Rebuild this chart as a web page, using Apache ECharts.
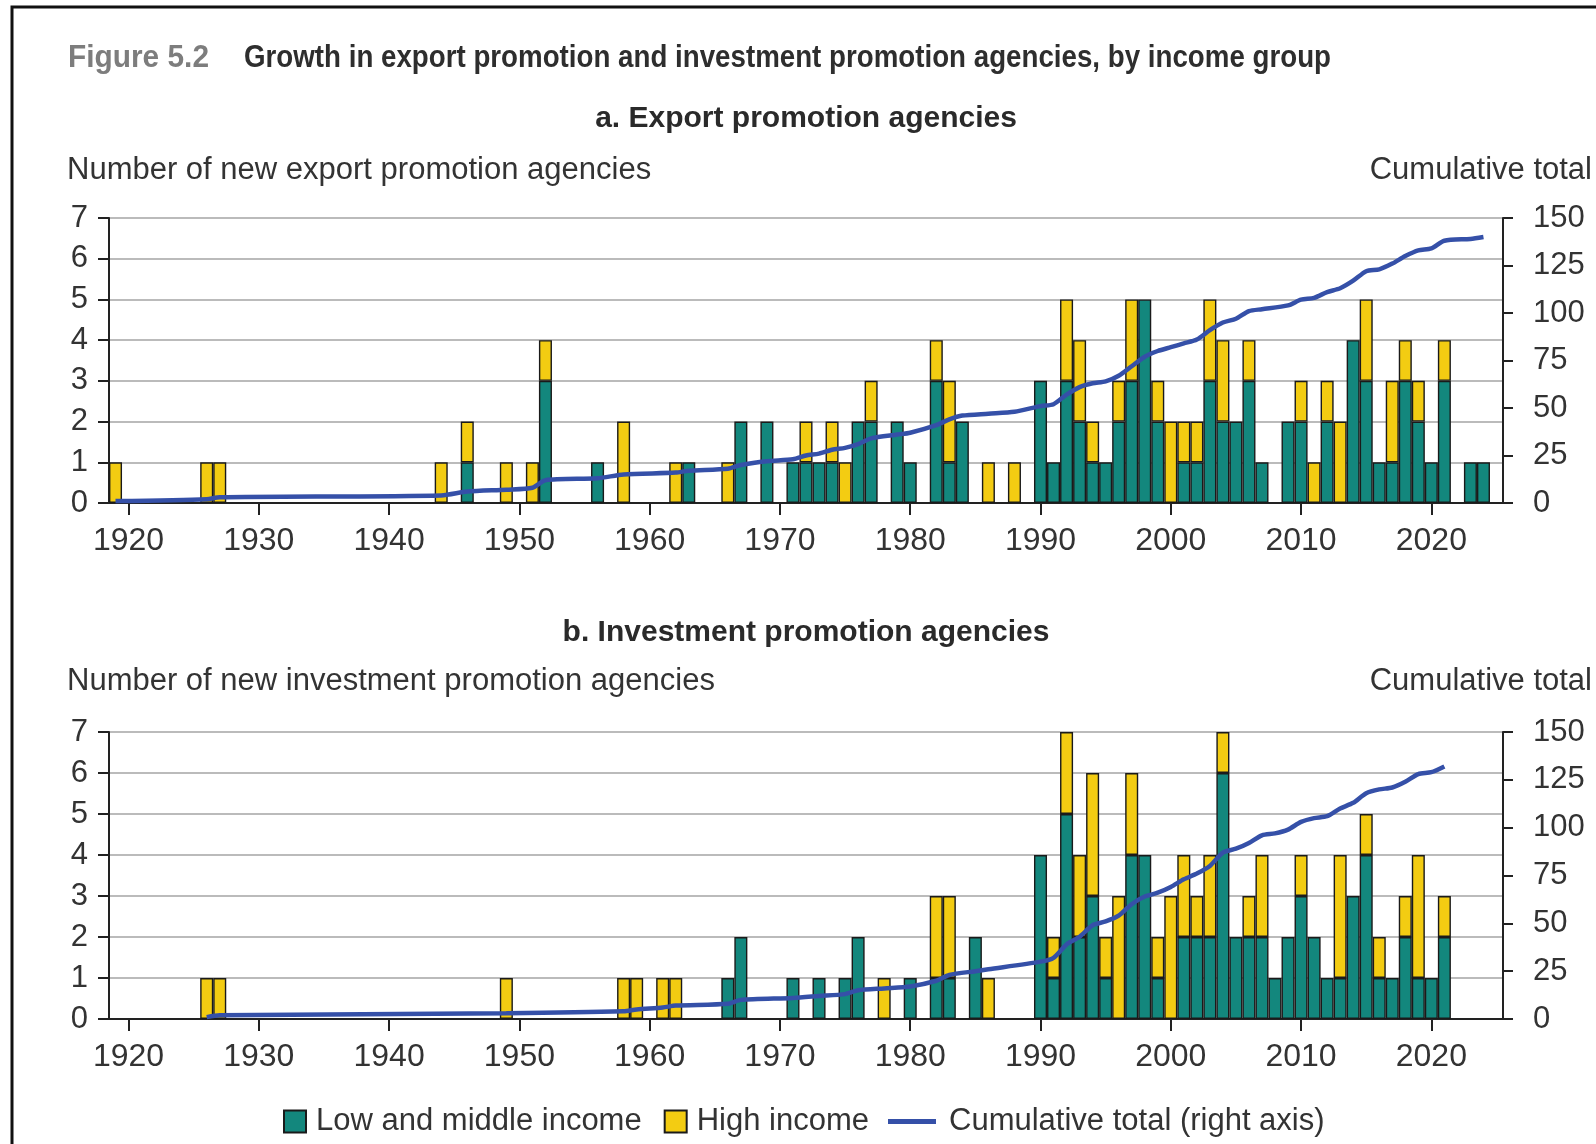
<!DOCTYPE html>
<html>
<head>
<meta charset="utf-8">
<title>Growth in export promotion and investment promotion agencies</title>
<script src="https://cdn.jsdelivr.net/npm/echarts@6/dist/echarts.min.js"></script>
<style>
  html, body { margin: 0; padding: 0; background: #ffffff; }
  #chart { width: 1596px; height: 1144px; }
</style>
</head>
<body>
<div id="chart"></div>
<script>
// ---- Panel a: export promotion agencies (years with at least one new agency) ----
const exportYears = [1919, 1926, 1927, 1944, 1946, 1949, 1951, 1952,
  1956, 1958, 1962, 1963, 1966, 1967, 1969,
  1971, 1972, 1973, 1974, 1975, 1976, 1977, 1979, 1980,
  1982, 1983, 1984, 1986, 1988,
  1990, 1991, 1992, 1993, 1994, 1995, 1996, 1997, 1998, 1999,
  2000, 2001, 2002, 2003, 2004, 2005, 2006, 2007,
  2009, 2010, 2011, 2012, 2013, 2014, 2015, 2016, 2017, 2018, 2019, 2020, 2021,
  2023, 2024];
const exportLowMiddle = [0, 0, 0, 0, 1, 0, 0, 3,
  1, 0, 0, 1, 0, 2, 2,
  1, 1, 1, 1, 0, 2, 2, 2, 1,
  3, 1, 2, 0, 0,
  3, 1, 3, 2, 1, 1, 2, 3, 5, 2,
  0, 1, 1, 3, 2, 2, 3, 1,
  2, 2, 0, 2, 0, 4, 3, 1, 1, 3, 2, 1, 3,
  1, 1];
const exportHigh = [1, 1, 1, 1, 1, 1, 1, 1,
  0, 2, 1, 0, 1, 0, 0,
  0, 1, 0, 1, 1, 0, 1, 0, 0,
  1, 2, 0, 1, 1,
  0, 0, 2, 2, 1, 0, 1, 2, 0, 1,
  2, 1, 1, 2, 2, 0, 1, 0,
  0, 1, 1, 1, 2, 0, 2, 0, 2, 1, 1, 0, 1,
  0, 0];
const exportCumulative = [1, 2, 3, 4, 6, 7, 8, 12,
  13, 15, 16, 17, 18, 20, 22,
  23, 25, 26, 28, 29, 31, 34, 36, 37,
  41, 44, 46, 47, 48,
  51, 52, 57, 61, 63, 64, 67, 72, 77, 80,
  82, 84, 86, 91, 95, 97, 101, 102,
  104, 107, 108, 111, 113, 117, 122, 123, 126, 130, 133, 134, 138,
  139, 140];

// ---- Panel b: investment promotion agencies ----
const investYears = [1926, 1927, 1949, 1958, 1959, 1961, 1962,
  1966, 1967, 1971, 1973, 1975, 1976, 1978, 1980,
  1982, 1983, 1985, 1986,
  1990, 1991, 1992, 1993, 1994, 1995, 1996, 1997, 1998, 1999,
  2000, 2001, 2002, 2003, 2004, 2005, 2006, 2007, 2008, 2009,
  2010, 2011, 2012, 2013, 2014, 2015, 2016, 2017, 2018, 2019,
  2020, 2021];
const investLowMiddle = [0, 0, 0, 0, 0, 0, 0,
  1, 2, 1, 1, 1, 2, 0, 1,
  1, 1, 2, 0,
  4, 1, 5, 2, 3, 1, 0, 4, 4, 1,
  0, 2, 2, 2, 6, 2, 2, 2, 1, 2,
  3, 2, 1, 1, 3, 4, 1, 1, 2, 1,
  1, 2];
const investHigh = [1, 1, 1, 1, 1, 1, 1,
  0, 0, 0, 0, 0, 0, 1, 0,
  2, 2, 0, 1,
  0, 1, 2, 2, 3, 1, 3, 2, 0, 1,
  3, 2, 1, 2, 1, 0, 1, 2, 0, 0,
  1, 0, 0, 3, 0, 1, 1, 0, 1, 3,
  0, 1];
const investCumulative = [1, 2, 3, 4, 5, 6, 7,
  8, 10, 11, 12, 13, 15, 16, 17,
  20, 23, 25, 26,
  30, 32, 39, 43, 49, 51, 54, 60, 64, 66,
  69, 73, 76, 80, 87, 89, 92, 96, 97, 99,
  103, 105, 106, 110, 113, 118, 120, 121, 124, 128,
  129, 132];

// ---- Axes ----
const firstYear = 1919;
const lastYear = 2025;
const yearTicks = [1920, 1930, 1940, 1950, 1960, 1970, 1980, 1990, 2000, 2010, 2020];
const countMax = 7;
const cumulativeMax = 150;
const cumulativeStep = 25;

const TEAL = '#13877d';
const YELLOW = '#f3cc12';
const BLUE = '#3550a8';
const INK = '#333333';
const FONT = '"Liberation Sans", Arial, sans-serif';

// Category axis: one band per calendar year
const categories = [];
for (let y = firstYear; y <= lastYear; y++) categories.push(String(y));

// Spread a sparse (year -> value) list over the year categories; empty years stay null
function spread(years, values) {
  const byYear = new Map(years.map((y, i) => [String(y), values[i]]));
  return categories.map(c => {
    const v = byYear.get(c);
    return v === undefined || v === 0 ? null : v;
  });
}
const isTickYear = (index, value) => yearTicks.indexOf(Number(value)) !== -1;

function xAxisFor(gridIndex) {
  return {
    type: 'category', gridIndex, data: categories, boundaryGap: true,
    axisLine: { show: true, onZero: false, lineStyle: { color: '#222', width: 2 } },
    axisTick: { show: true, interval: isTickYear, alignWithLabel: true, length: 12,
      lineStyle: { color: '#222', width: 2 } },
    axisLabel: { interval: isTickYear, fontSize: 32, color: INK, fontFamily: FONT, margin: 22 },
    splitLine: { show: false }
  };
}
function leftAxisFor(gridIndex) {
  return {
    type: 'value', gridIndex, position: 'left',
    min: 0, max: countMax, interval: 1,
    axisLine: { show: true, lineStyle: { color: '#222', width: 2 } },
    axisTick: { show: true, length: 11, lineStyle: { color: '#222', width: 2 } },
    axisLabel: { fontSize: 31, color: INK, fontFamily: FONT, margin: 21 },
    splitLine: { show: true, lineStyle: { color: '#a4a4a4', width: 1.5 } }
  };
}
function rightAxisFor(gridIndex) {
  return {
    type: 'value', gridIndex, position: 'right',
    min: 0, max: cumulativeMax, interval: cumulativeStep,
    axisLine: { show: true, lineStyle: { color: '#222', width: 2 } },
    axisTick: { show: true, length: 10, lineStyle: { color: '#222', width: 2 } },
    axisLabel: { fontSize: 31, color: INK, fontFamily: FONT, margin: 30 },
    splitLine: { show: false }
  };
}
function barSeries(name, xIdx, yIdx, stack, years, values, color) {
  return {
    name, type: 'bar', xAxisIndex: xIdx, yAxisIndex: yIdx, stack,
    barWidth: '100%', data: spread(years, values),
    itemStyle: { color, borderColor: '#1a1a1a', borderWidth: 1.4 },
    emphasis: { disabled: true }
  };
}
function lineSeries(xIdx, yIdx, years, values) {
  return {
    name: 'Cumulative total (right axis)', type: 'line',
    xAxisIndex: xIdx, yAxisIndex: yIdx, z: 5,
    data: spread(years, values), connectNulls: true,
    showSymbol: false, smooth: 0.25,
    color: BLUE, itemStyle: { color: BLUE },
    lineStyle: { color: BLUE, width: 4.5 }
  };
}
function text(x, y, str, font, fill, align) {
  return { type: 'text', x, y, silent: true,
    style: { text: str, font, fill, align: align || 'left', verticalAlign: 'middle' } };
}
// Condensed heading: a bold face squeezed horizontally to a given line length
const measureCtx = document.createElement('canvas').getContext('2d');
function condensed(x, y, str, font, fill, targetWidth) {
  measureCtx.font = font;
  const w = measureCtx.measureText(str).width || targetWidth;
  const el = text(x, y, str, font, fill);
  el.scaleX = targetWidth / w;
  return el;
}

const chart = echarts.init(document.getElementById('chart'), null, { renderer: 'canvas' });
chart.setOption({
  backgroundColor: '#ffffff',
  animation: false,
  grid: [
    { left: 109, top: 218, width: 1394, height: 285 },
    { left: 109, top: 732, width: 1394, height: 287 }
  ],
  xAxis: [xAxisFor(0), xAxisFor(1)],
  yAxis: [leftAxisFor(0), rightAxisFor(0), leftAxisFor(1), rightAxisFor(1)],
  legend: [
    {
      data: ['Low and middle income', 'High income'],
      left: 283, top: 1106, padding: 0, icon: 'rect',
      itemWidth: 22, itemHeight: 22, itemGap: 22,
      textStyle: { fontSize: 31, color: INK, fontFamily: FONT, padding: [0, 0, 0, 5] },
      selectedMode: false
    },
    {
      data: ['Cumulative total (right axis)'],
      left: 888, top: 1106, padding: 0, icon: 'rect',
      itemWidth: 48, itemHeight: 5,
      textStyle: { fontSize: 31, color: INK, fontFamily: FONT, padding: [0, 0, 0, 8] },
      selectedMode: false
    }
  ],
  series: [
    barSeries('Low and middle income', 0, 0, 'export', exportYears, exportLowMiddle, TEAL),
    barSeries('High income', 0, 0, 'export', exportYears, exportHigh, YELLOW),
    lineSeries(0, 1, exportYears, exportCumulative),
    barSeries('Low and middle income', 1, 2, 'invest', investYears, investLowMiddle, TEAL),
    barSeries('High income', 1, 2, 'invest', investYears, investHigh, YELLOW),
    lineSeries(1, 3, investYears, investCumulative)
  ],
  graphic: [
    { type: 'rect', silent: true, shape: { x: 12, y: 7, width: 1700, height: 1300 },
      style: { fill: 'none', stroke: '#111', lineWidth: 3 } },
    condensed(68, 58, 'Figure 5.2', 'bold 31px ' + FONT, '#7d7d7d', 141),
    condensed(244, 58, 'Growth in export promotion and investment promotion agencies, by income group',
      'bold 31px ' + FONT, '#2e2e2e', 1087),
    text(806, 119, 'a. Export promotion agencies', 'bold 30px ' + FONT, '#2a2a2a', 'center'),
    text(67, 170, 'Number of new export promotion agencies', '31px ' + FONT, INK),
    text(1592, 170, 'Cumulative total', '31px ' + FONT, INK, 'right'),
    text(806, 633, 'b. Investment promotion agencies', 'bold 30px ' + FONT, '#2a2a2a', 'center'),
    text(67, 681, 'Number of new investment promotion agencies', '31px ' + FONT, INK),
    text(1592, 681, 'Cumulative total', '31px ' + FONT, INK, 'right')
  ]
});
</script>
</body>
</html>
